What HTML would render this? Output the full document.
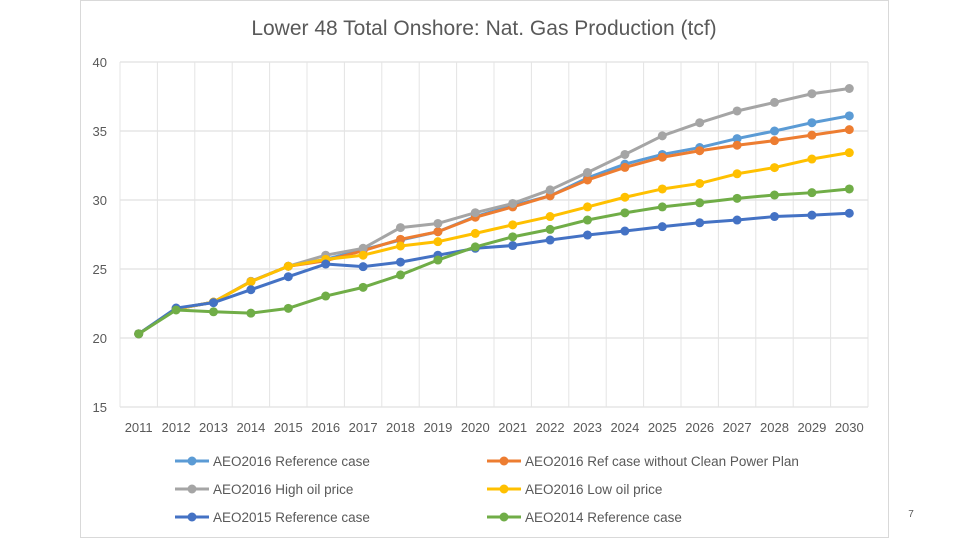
<!DOCTYPE html>
<html><head><meta charset="utf-8"><style>
html,body{margin:0;padding:0;background:#fff;width:960px;height:540px;overflow:hidden}
svg text{font-family:"Liberation Sans",sans-serif}
</style></head><body>
<svg id="chart" width="960" height="540" xmlns="http://www.w3.org/2000/svg">
<rect x="80.5" y="0.5" width="808" height="537" fill="#fff" stroke="#d9d9d9"/>
<text x="484" y="35" text-anchor="middle" font-size="21" fill="#595959">Lower 48 Total Onshore: Nat. Gas Production (tcf)</text>
<g id="grid"></g><g id="axes"></g><g id="series"></g><g id="legend"></g>
<text x="911" y="517" text-anchor="middle" font-size="10" fill="#595959">7</text>
</svg>
<script>
const years = ["2011","2012","2013","2014","2015","2016","2017","2018","2019","2020","2021","2022","2023","2024","2025","2026","2027","2028","2029","2030"];
const yTicks = [15,20,25,30,35,40];
const seriesNames = ["AEO2016 Reference case","AEO2016 Ref case without Clean Power Plan","AEO2016 High oil price","AEO2016 Low oil price","AEO2015 Reference case","AEO2014 Reference case"];
const seriesColors = ["#5B9BD5","#ED7D31","#A5A5A5","#FFC000","#4472C4","#70AD47"];
const ref2016 = [20.3,22.1,22.6,24.1,25.2,25.7,26.4,27.1,27.7,28.8,29.6,30.3,31.6,32.6,33.3,33.8,34.45,35.0,35.6,36.1];
const noCpp2016 = [20.3,22.1,22.6,24.1,25.2,25.6,26.33,27.15,27.7,28.75,29.5,30.3,31.45,32.36,33.1,33.57,33.97,34.3,34.7,35.1];
const highOil2016 = [20.3,22.1,22.6,24.1,25.2,26.0,26.5,28.0,28.3,29.08,29.75,30.73,31.99,33.3,34.65,35.6,36.45,37.07,37.7,38.08];
const lowOil2016 = [20.3,22.1,22.6,24.08,25.2,25.7,26.0,26.67,26.98,27.58,28.2,28.8,29.5,30.2,30.8,31.2,31.9,32.35,32.97,33.43];
const ref2015 = [20.3,22.17,22.56,23.5,24.44,25.36,25.17,25.5,26.0,26.5,26.7,27.1,27.46,27.75,28.07,28.35,28.55,28.8,28.9,29.04];
const ref2014 = [20.3,22.03,21.9,21.8,22.15,23.04,23.67,24.57,25.65,26.6,27.33,27.87,28.55,29.07,29.5,29.8,30.12,30.36,30.53,30.8];
const allSeries = [ref2016,noCpp2016,highOil2016,lowOil2016,ref2015,ref2014];

const NS="http://www.w3.org/2000/svg";
const L=120,R=868,T=62,B=407,yMin=15,yMax=40;
const band=(R-L)/years.length;
const xPos=i=>L+band*(i+0.5);
const yPos=v=>B-(v-yMin)/(yMax-yMin)*(B-T);
function mk(tag,attrs,parent){const e=document.createElementNS(NS,tag);for(const k in attrs)e.setAttribute(k,attrs[k]);parent.appendChild(e);return e;}
const grid=document.getElementById('grid'),axes=document.getElementById('axes'),ser=document.getElementById('series'),leg=document.getElementById('legend');
yTicks.forEach(t=>{
  const y=yPos(t);
  const g=mk('line',{x1:L,x2:R,y1:y,y2:y,stroke:'#d9d9d9','stroke-width':1},grid);
  
  
  const tx=mk('text',{x:107,y:y+5,'text-anchor':'end','font-size':13,fill:'#595959'},axes);
  tx.textContent=t;
  
  
});
for(let i=0;i<=years.length;i++){
  const x=L+band*i;
  const g=mk('line',{x1:x,x2:x,y1:T,y2:B,stroke:'#e4e4e4','stroke-width':1},grid);
  
  
}
years.forEach((yr,i)=>{
  const tx=mk('text',{x:xPos(i),y:432,'text-anchor':'middle','font-size':13,fill:'#595959'},axes);
  tx.textContent=yr;
  
  
});
allSeries.forEach((vals,s)=>{
  const g=mk('g',{},ser);
  
  
  const pts=vals.map((v,i)=>xPos(i)+','+yPos(v)).join(' ');
  const pl=mk('polyline',{points:pts,fill:'none',stroke:seriesColors[s],'stroke-width':3,'stroke-linejoin':'round'},g);
  
  
  vals.forEach((v,i)=>{
    const c=mk('circle',{cx:xPos(i),cy:yPos(v),r:4.5,fill:seriesColors[s]},g);
    
    
  });
});
seriesNames.forEach((n,s)=>{
  const col=s%2,row=Math.floor(s/2);
  const x0=col?487:175,y=461+row*28;
  const g=mk('g',{},leg);
  
  
  mk('line',{x1:x0,x2:x0+34,y1:y,y2:y,stroke:seriesColors[s],'stroke-width':3},g);
  mk('circle',{cx:x0+17,cy:y,r:4.5,fill:seriesColors[s]},g);
  const t=mk('text',{x:x0+38,y:y+5,'font-size':13.5,fill:'#595959'},g);
  t.textContent=n;
});
</script>
</body></html>
